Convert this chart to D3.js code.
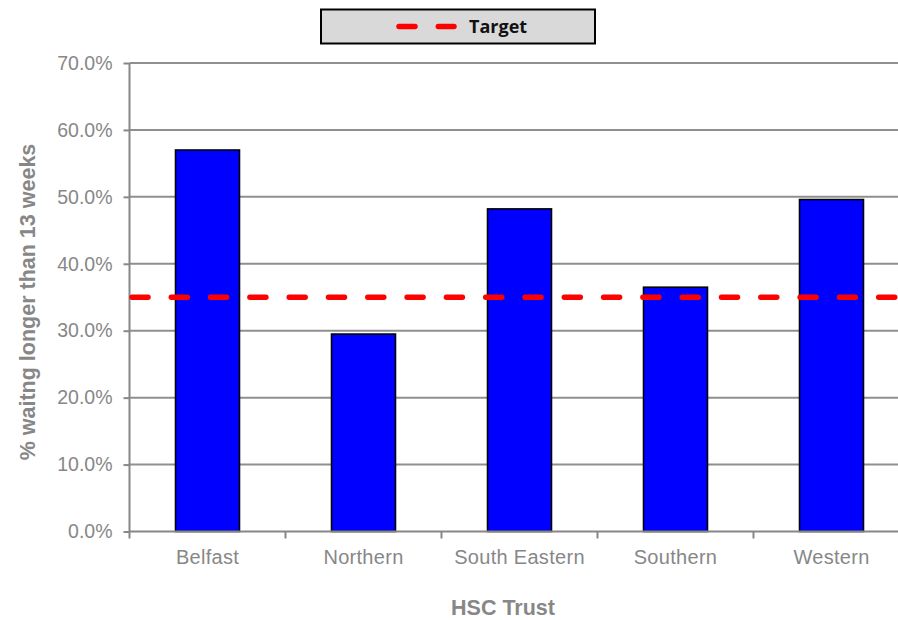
<!DOCTYPE html>
<html>
<head>
<meta charset="utf-8">
<script src="https://cdn.jsdelivr.net/npm/d3@7"></script>
<style>
  html, body { margin: 0; padding: 0; background: #fff; }
  svg { display: block; }
</style>
</head>
<body>
<svg id="chart" width="898" height="620"></svg>
<script>
// Share of patients waiting longer than 13 weeks, by HSC Trust
const trusts = ["Belfast", "Northern", "South Eastern", "Southern", "Western"];
const waitingPct = [57.0, 29.5, 48.2, 36.5, 49.6];
const targetPct = 35.0;
const yTicks = [0, 10, 20, 30, 40, 50, 60, 70];

const svg = d3.select("#chart");
const plot = { left: 129.5, right: 909.5, top: 63, bottom: 531.5 };
const grey = "#878787";
const font = "'Liberation Sans', Arial, sans-serif";

const x = d3.scaleBand()
  .domain(trusts)
  .range([plot.left, plot.right])
  .paddingInner(0.59)
  .paddingOuter(0.295);

const xGroup = d3.scaleBand()
  .domain(trusts)
  .range([plot.left, plot.right])
  .padding(0);

const y = d3.scaleLinear().domain([0, 70]).range([plot.bottom, plot.top]);

// Horizontal gridlines
svg.append("g")
  .selectAll("line")
  .data(yTicks.filter(d => d > 0))
  .join("line")
  .attr("x1", plot.left)
  .attr("x2", plot.right)
  .attr("y1", d => y(d))
  .attr("y2", d => y(d))
  .attr("stroke", "#8f8f8f")
  .attr("stroke-width", 2);

// Bars
svg.append("g")
  .selectAll("rect")
  .data(trusts)
  .join("rect")
  .attr("x", d => x(d))
  .attr("width", x.bandwidth())
  .attr("y", (d, i) => y(waitingPct[i]))
  .attr("height", (d, i) => y(0) - y(waitingPct[i]))
  .attr("fill", "#0000ff")
  .attr("stroke", "#000")
  .attr("stroke-width", 1.6);

// Y axis
const yAxis = d3.axisLeft(y)
  .tickValues(yTicks)
  .tickSize(6)
  .tickPadding(11)
  .tickFormat(d => d.toFixed(1) + "%");

const gy = svg.append("g")
  .attr("transform", `translate(${plot.left},0)`)
  .call(yAxis);
gy.select(".domain").attr("stroke", grey).attr("stroke-width", 2)
  .attr("d", `M0,${plot.top}V${plot.bottom}`);
gy.selectAll(".tick line").attr("stroke", grey).attr("stroke-width", 2);
gy.selectAll(".tick text")
  .attr("fill", grey)
  .attr("font-family", font)
  .attr("font-size", 19.5);

// X axis with ticks at category boundaries
const gx = svg.append("g")
  .attr("transform", `translate(0,${plot.bottom})`);
gx.append("line")
  .attr("x1", plot.left).attr("x2", plot.right)
  .attr("stroke", grey).attr("stroke-width", 2);
gx.selectAll("line.tick")
  .data(trusts)
  .join("line")
  .attr("class", "tick")
  .attr("x1", d => xGroup(d))
  .attr("x2", d => xGroup(d))
  .attr("y1", 0).attr("y2", 7)
  .attr("stroke", grey).attr("stroke-width", 2);
gx.selectAll("text")
  .data(trusts)
  .join("text")
  .attr("x", d => x(d) + x.bandwidth() / 2)
  .attr("y", 32)
  .attr("text-anchor", "middle")
  .attr("fill", grey)
  .attr("font-family", font)
  .attr("font-size", 20)
  .attr("letter-spacing", 0.3)
  .text(d => d);

// Target line
svg.append("line")
  .attr("x1", plot.left + 1)
  .attr("x2", plot.right)
  .attr("y1", y(targetPct))
  .attr("y2", y(targetPct))
  .attr("stroke", "#ff0000")
  .attr("stroke-width", 5.5)
  .attr("stroke-linecap", "round")
  .attr("stroke-dasharray", "16 23.3")
  .attr("stroke-dashoffset", -1.5);

// Axis titles
svg.append("text")
  .attr("x", 503)
  .attr("y", 615)
  .attr("text-anchor", "middle")
  .attr("fill", grey)
  .attr("font-family", font)
  .attr("font-weight", "bold")
  .attr("font-size", 21.5)
  .text("HSC Trust");

svg.append("text")
  .attr("transform", "translate(35,302) rotate(-90)")
  .attr("text-anchor", "middle")
  .attr("fill", grey)
  .attr("font-family", font)
  .attr("font-weight", "bold")
  .attr("font-size", 21.5)
  .text("% waitng longer than 13 weeks");

// Legend
const legend = svg.append("g");
legend.append("rect")
  .attr("x", 321).attr("y", 9.5)
  .attr("width", 274).attr("height", 34)
  .attr("fill", "#d9d9d9")
  .attr("stroke", "#000")
  .attr("stroke-width", 2);
legend.append("line")
  .attr("x1", 399).attr("x2", 454)
  .attr("y1", 26.5).attr("y2", 26.5)
  .attr("stroke", "#ff0000")
  .attr("stroke-width", 5.5)
  .attr("stroke-linecap", "round")
  .attr("stroke-dasharray", "16 23.3");
legend.append("text")
  .attr("x", 469)
  .attr("y", 33)
  .attr("fill", "#111")
  .attr("font-family", "'Open Sans', 'Liberation Sans', sans-serif")
  .attr("font-weight", "bold")
  .attr("font-size", 18)
  .text("Target");
</script>
</body>
</html>
